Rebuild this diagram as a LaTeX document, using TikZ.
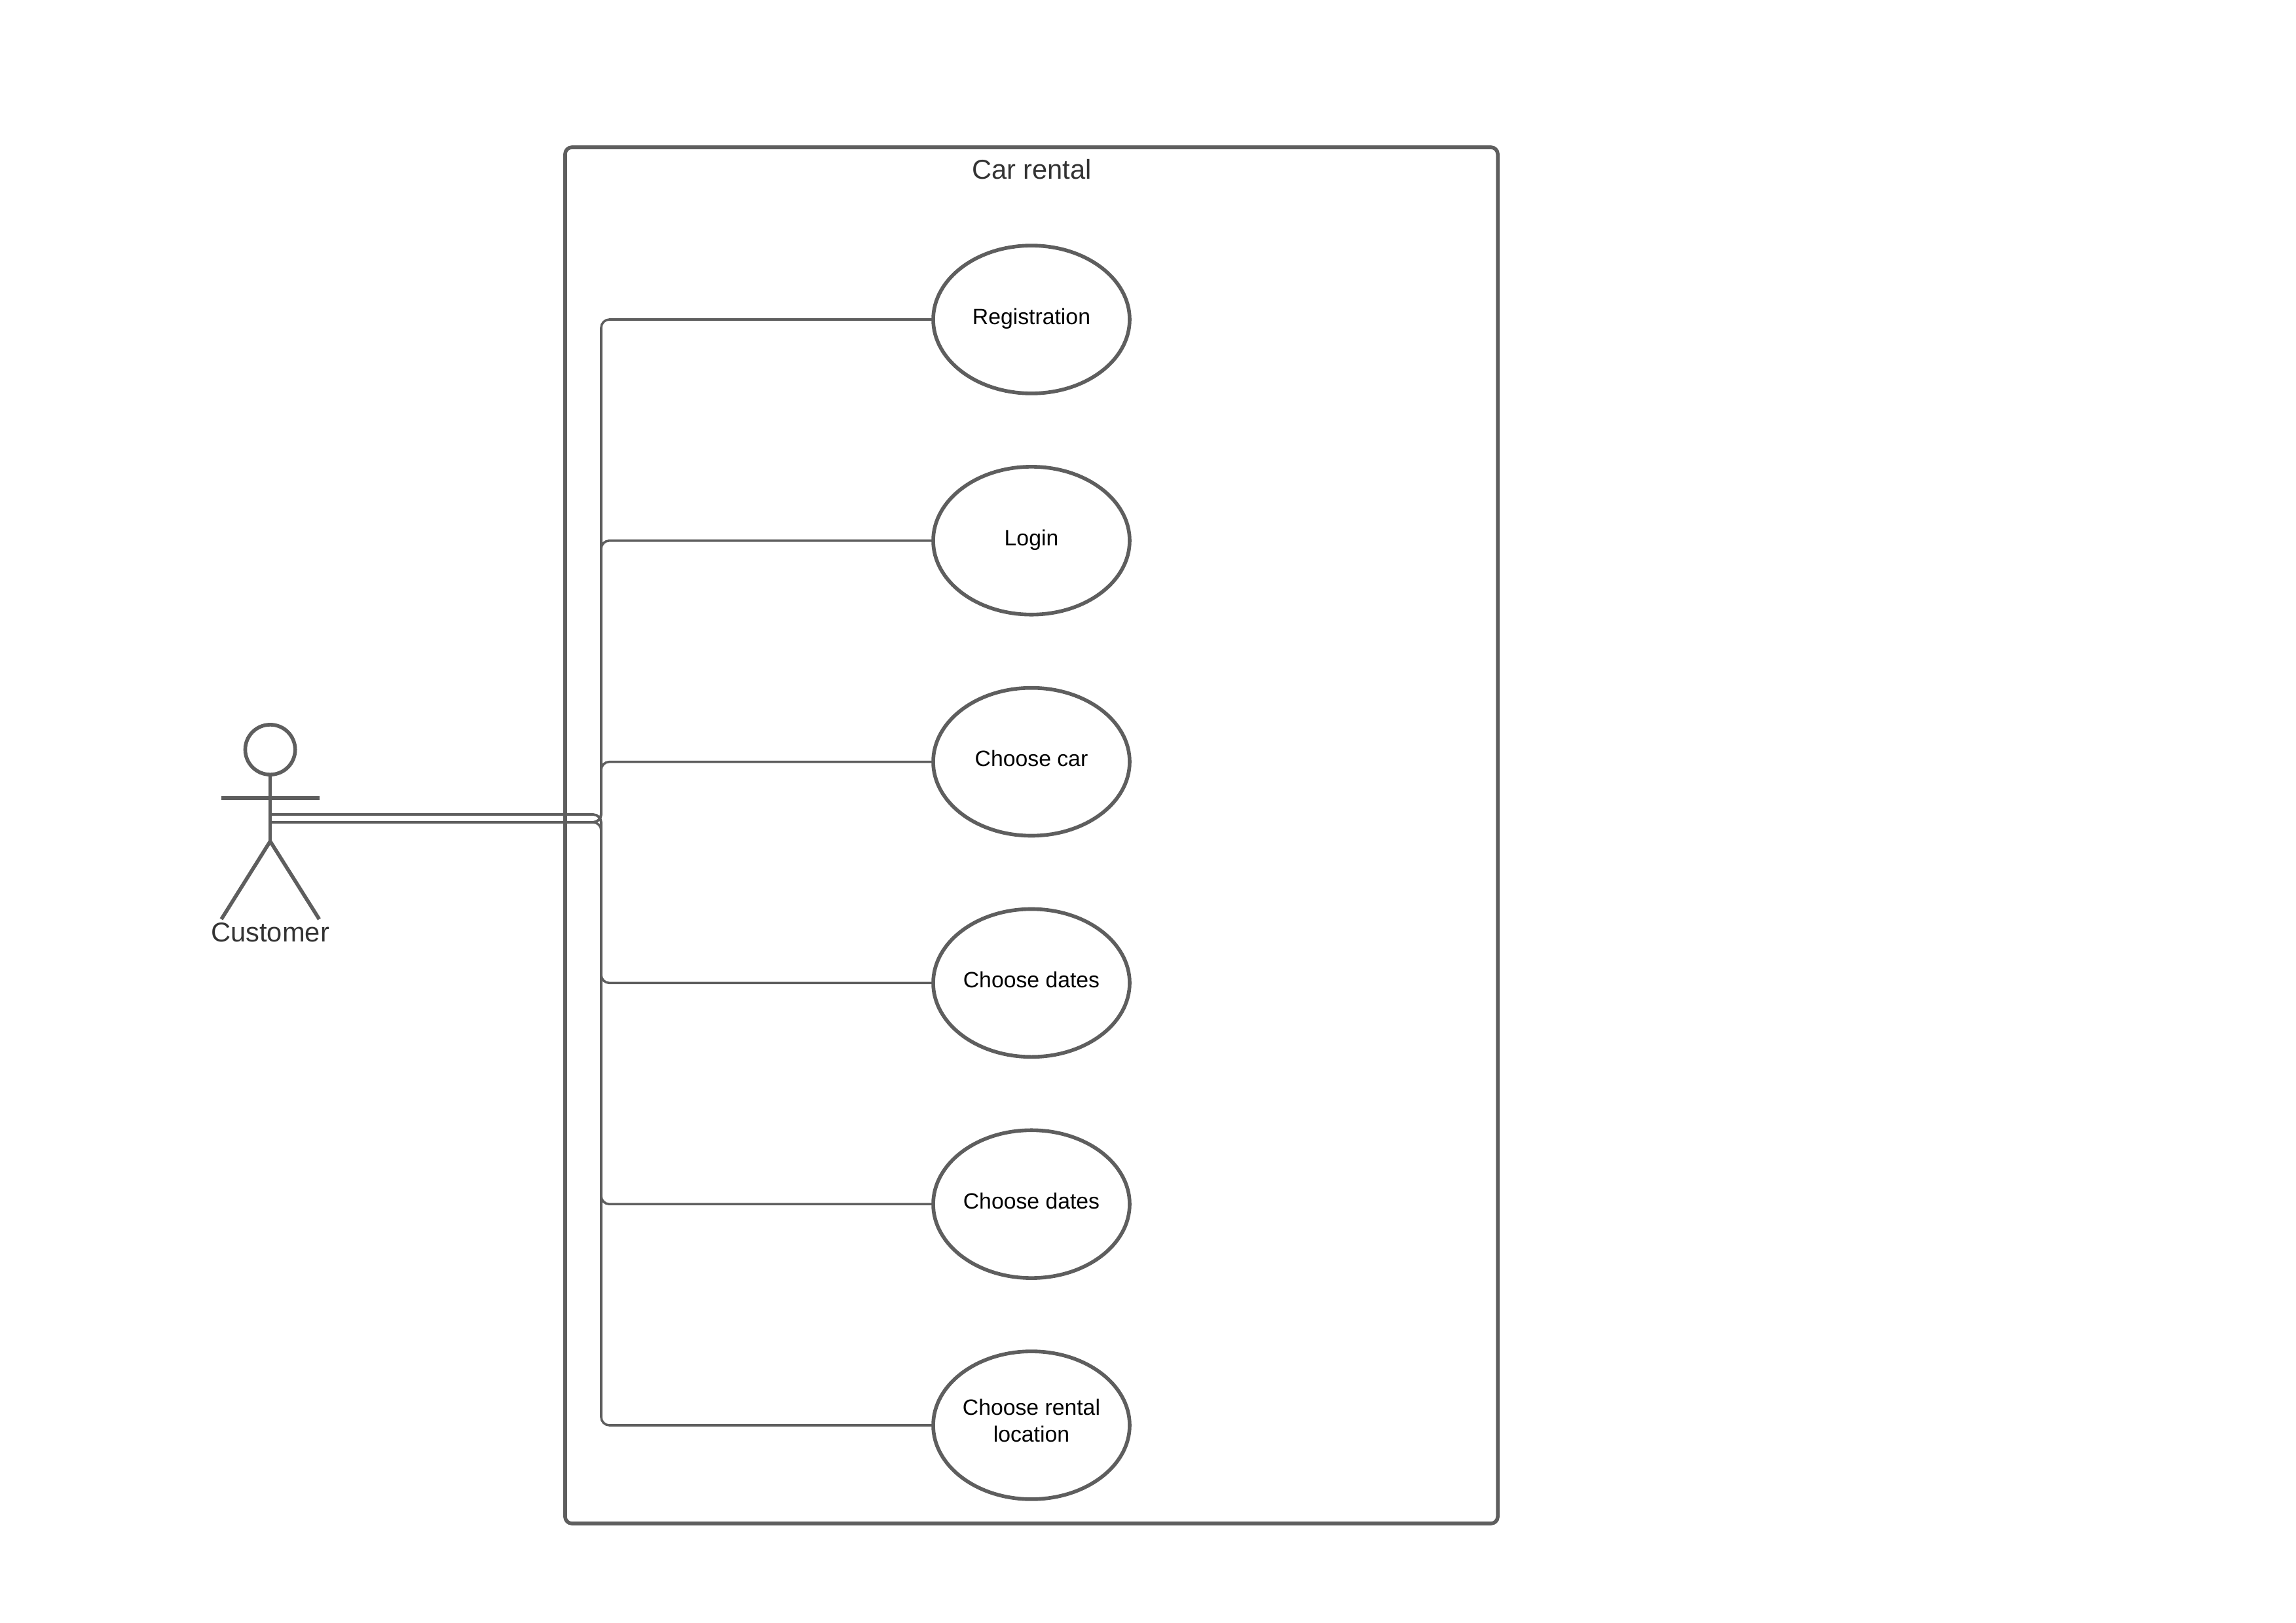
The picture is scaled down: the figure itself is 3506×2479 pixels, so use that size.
\documentclass[tikz,border=0pt]{standalone}
\usepackage{fontspec}
\setmainfont{Liberation Sans}
\usetikzlibrary{shapes.geometric}
\definecolor{linegray}{HTML}{5E5E5E}
\definecolor{labelgray}{HTML}{333333}
\tikzset{
    sysbox/.style={draw=linegray, line width=1.35pt, rounded corners=2.5pt, minimum width=341.8pt, minimum height=504.5pt, inner sep=0pt, outer sep=0pt},
    usecase/.style={ellipse, draw=linegray, fill=white, line width=1.35pt, minimum width=72pt, minimum height=54.2pt, inner sep=0pt, outer sep=0pt, align=center, text height=6pt, text depth=2.5pt, font=\fontsize{8.1}{10}\selectfont},
    biglabel/.style={text=labelgray, inner sep=0pt, font=\fontsize{10}{12}\selectfont},
    body/.style={draw=linegray, line width=1.35pt},
    link/.style={draw=linegray, line width=0.85pt, rounded corners=3pt}
}
\begin{document}
\begin{tikzpicture}[x=0.24pt,y=-0.24pt]
            \useasboundingbox (0,0) rectangle (3506,2479);

            % System boundary
            \node[sysbox] (system) at (1575,1276) {};
            \node[biglabel] (title) at (1575.5,259) {Car rental};

            % Actor
            \node[ellipse, body, minimum width=18.3pt, minimum height=18.3pt, inner sep=0pt, outer sep=0pt] (head) at (412.6,1145) {};
            \coordinate (hip) at (412.6,1285);
            \coordinate (armL) at (338,1219);
            \coordinate (armR) at (487.5,1219);
            \coordinate (legL) at (338,1404);
            \coordinate (legR) at (487.5,1404);
            \draw[body] (head.south) -- (hip);
            \draw[body] (armL) -- (armR);
            \draw[body] (legL) -- (hip) -- (legR);
            \node[biglabel] (customer) at (412.6,1424) {Customer};

            % Start points and trunk
            \coordinate (startA) at (412.6,1244);
            \coordinate (startB) at (412.6,1256);
            \coordinate (trunk) at (918,0);

            % Use cases
            \node[usecase] (reg) at (1575,488) {Registration};
            \node[usecase] (login) at (1575,825.8) {Login};
            \node[usecase] (car) at (1575,1163.6) {Choose car};
            \node[usecase] (datesA) at (1575,1501.4) {Choose dates};
            \node[usecase] (datesB) at (1575,1839.2) {Choose dates};
            \node[usecase, text height=14pt, text depth=1.6pt] (place) at (1575,2177) {Choose rental\\location};

            % Connectors
            \foreach \case in {reg,login,car,place} {
                \draw[link] (startB) -- (startB -| trunk) |- (\case.west);
            }
            \foreach \case in {datesA,datesB} {
                \draw[link] (startA) -- (startA -| trunk) |- (\case.west);
            }
        \end{tikzpicture}
\end{document}
